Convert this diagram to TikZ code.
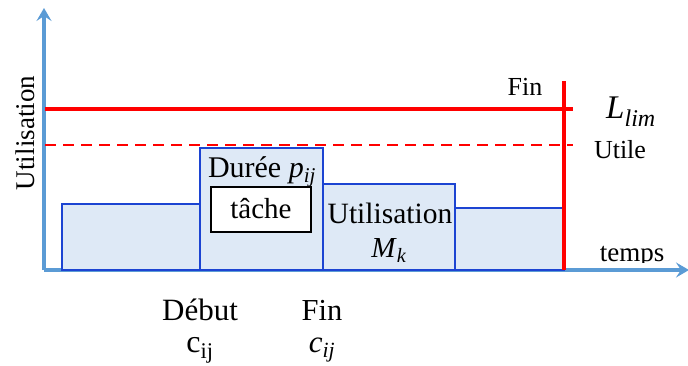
\documentclass[tikz,border=0pt]{standalone}
\usepackage{fontspec}
\setmainfont{Liberation Serif}
\usetikzlibrary{arrows.meta}
\definecolor{axisblue}{HTML}{5B9BD5}
\definecolor{barblue}{HTML}{1C44D2}
\definecolor{barfill}{HTML}{DEE9F6}
\definecolor{limred}{HTML}{FF0000}
\newcommand{\fs}[1]{\fontsize{#1}{#1}\selectfont}
\begin{document}
\begin{tikzpicture}[x=1pt,y=-1pt,
  axis/.style={draw=axisblue,line width=3.5pt,-{Stealth[length=13pt,width=15pt,inset=5pt]}},
  bar/.style={draw=barblue,fill=barfill,line width=2.2pt,anchor=south west,inner sep=0pt,outer sep=0pt},
  taskbox/.style={draw=black,fill=white,line width=2.2pt,inner sep=0pt,minimum width=100pt,minimum height=45pt},
  limit/.style={draw=limred,line width=3.2pt},
  lbl/.style={inner sep=0pt,anchor=base,text=black}]
\useasboundingbox (0,0) rectangle (688,365);

% axes
\coordinate (o) at (44,270);
\coordinate (ytop) at (44,8);
\coordinate (xend) at (689,270);
\draw[axis] (o) -- (ytop);
\draw[axis] (o) -- (xend);

% resource usage bars
\node[bar,minimum width=138pt,minimum height=66pt] (b1) at (62,270) {};
\node[bar,minimum width=123pt,minimum height=122pt] (b2) at (200,270) {};
\node[bar,minimum width=132pt,minimum height=86pt] (b3) at (323,270) {};
\node[bar,minimum width=109pt,minimum height=62pt] (b4) at (455,270) {};

% task inside the bar
\node[taskbox] (task) at (261,209.5) {};
\node[lbl] (tasklbl) at (261,218) {\fs{29}tâche};
\node[lbl] (duree) at (262,177) {\fs{30}Durée \textit{p}\textsubscript{\textit{ij}}};
\node[lbl] (util) at (390,223) {\fs{29.5}Utilisation};
\node[lbl] (mk) at (389,257) {\fs{29}\textit{M}\textsubscript{\textit{k}}};

% limits
\coordinate (lim0) at (45,109);
\coordinate (lim1) at (573,109);
\coordinate (ut0) at (45,145);
\coordinate (ut1) at (573,145);
\coordinate (fin0) at (564,81);
\coordinate (fin1) at (564,270);
\draw[limit] (lim0) -- (lim1);
\draw[limit,line width=2.6pt,dash pattern=on 11pt off 7pt] (ut0) -- (ut1);
\draw[limit] (fin0) -- (fin1);

% labels
\node[lbl] (finlbl) at (525,95) {\fs{26}Fin};
\node[lbl] (llim) at (631,118) {\fs{33}\textit{L}\textsubscript{\fs{24}\textit{lim}}};
\node[lbl] (utile) at (620,158) {\fs{26}Utile};
\begin{scope}
\clip (580,225) rectangle (688,262);
\node[lbl] (temps) at (632,261) {\fs{27}temps};
\end{scope}
\node[lbl,rotate=90] (ylbl) at (34,133) {\fs{27}Utilisation};

\node[lbl] (debut) at (200,320) {\fs{31}Début};
\node[lbl] (cdeb) at (200,352) {\fs{32}c\textsubscript{ij}};
\node[lbl] (fin) at (322,320) {\fs{30.5}Fin};
\node[lbl] (cfin) at (322,352) {\fs{31}\textit{c}\textsubscript{\textit{ij}}};
\end{tikzpicture}
\end{document}
